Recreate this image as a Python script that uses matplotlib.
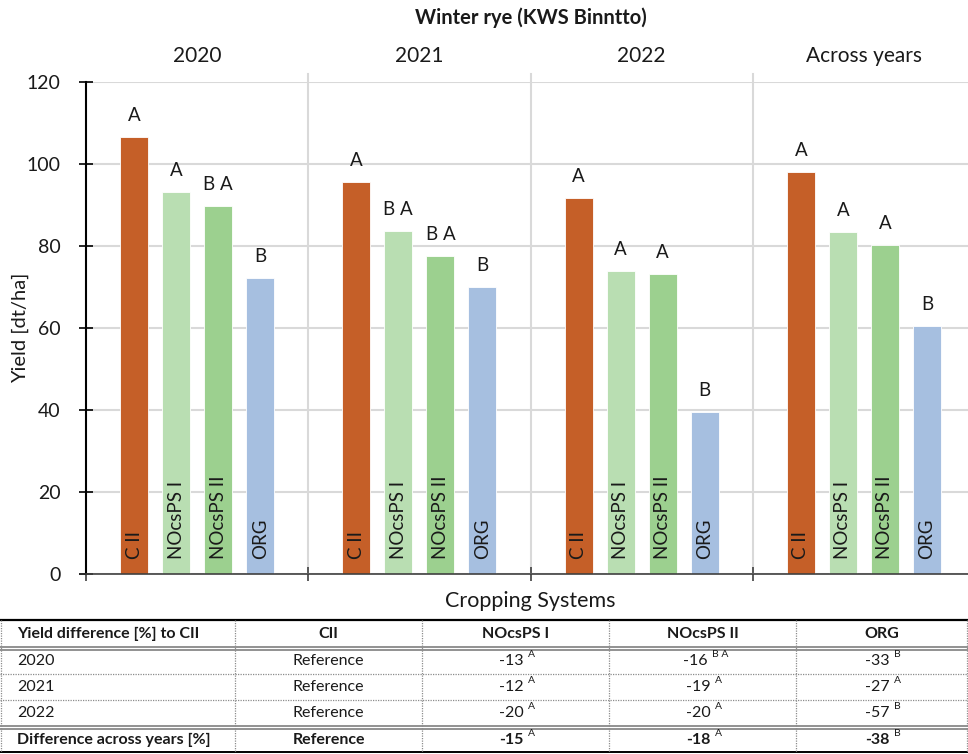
import matplotlib
matplotlib.use("Agg")
import matplotlib.pyplot as plt
import numpy as np

plt.rcParams["font.family"] = ["Lato", "DejaVu Sans"]

# ---- data -------------------------------------------------------------
groups = ["2020", "2021", "2022", "Across years"]
systems = ["C II", "NOcsPS I", "NOcsPS II", "ORG"]

yield_cii = [106.6, 95.5, 91.7, 98.1]
yield_nocsps1 = [93.0, 83.7, 73.9, 83.4]
yield_nocsps2 = [89.7, 77.6, 73.1, 80.1]
yield_org = [72.2, 70.0, 39.4, 60.5]

letters_cii = ["A", "A", "A", "A"]
letters_nocsps1 = ["A", "B A", "A", "A"]
letters_nocsps2 = ["B A", "B A", "A", "A"]
letters_org = ["B", "B", "B", "B"]

colors = ["#C55F28", "#B9DEB2", "#9CD08F", "#A6BFE0"]

table_header = ["Yield difference [%] to CII", "CII", "NOcsPS I", "NOcsPS II", "ORG"]
table_rows = ["2020", "2021", "2022", "Difference across years [%]"]
diff_nocsps1 = ["-13", "-12", "-20", "-15"]
diff_nocsps2 = ["-16", "-19", "-20", "-18"]
diff_org = ["-33", "-27", "-57", "-38"]
sig_nocsps1 = ["A", "A", "A", "A"]
sig_nocsps2 = ["B A", "A", "A", "A"]
sig_org = ["B", "A", "B", "B"]

# ---- figure -------------------------------------------------------------
W, H = 968, 754
fig = plt.figure(figsize=(W / 100, H / 100), dpi=100)

def fx(px):
    return px / W

def fy(py):
    return 1 - py / H

ax_left, ax_right, ax_top, ax_bot = 86, 975, 81.7, 574
ax = fig.add_axes([fx(ax_left), fy(ax_bot), fx(ax_right - ax_left), (ax_bot - ax_top) / H])

series = [yield_cii, yield_nocsps1, yield_nocsps2, yield_org]
letters = [letters_cii, letters_nocsps1, letters_nocsps2, letters_org]
x = np.arange(len(groups))
step = 0.189
width = 0.126
offsets = (np.arange(len(systems)) - 1.5) * step

ax.set_xlim(-0.5, len(groups) - 0.5)
ax.set_ylim(0, 120)
ax.set_yticks(np.arange(0, 121, 20))
ax.yaxis.grid(True, color="#D9D9D9", linewidth=1.5)
ax.set_axisbelow(True)

for k in range(len(groups) - 1):
    ax.plot([k + 0.5, k + 0.5], [0, 121.8], color="#D9D9D9", linewidth=1.5,
            clip_on=False, zorder=0.5)

for s, (vals, lets, col, name) in enumerate(zip(series, letters, colors, systems)):
    xs = x + offsets[s]
    ax.bar(xs, vals, width=width, color=col, edgecolor="white", linewidth=0.6, zorder=2)
    for xi, v, lt in zip(xs, vals, lets):
        ax.annotate(lt, xy=(xi, v), xytext=(0, 11.5), textcoords="offset points",
                    ha="center", va="baseline", fontsize=13.5, color="#1a1a1a")
        ax.annotate(name, xy=(xi, 0), xytext=(0, 10.5), textcoords="offset points",
                    ha="center", va="bottom", rotation=90, fontsize=13.5, color="#1a1a1a",
                    zorder=3)

ax.set_xticks(np.arange(-0.5, len(groups), 1.0))
ax.set_xticklabels([])
ax.tick_params(axis="x", direction="inout", length=10, width=1.2, color="#404040")
ax.tick_params(axis="y", direction="inout", length=9.5, width=1.2, color="black",
               labelsize=14, pad=13.5, labelcolor="#1a1a1a")
for side in ["top", "right"]:
    ax.spines[side].set_visible(False)
ax.spines["left"].set_color("black")
ax.spines["left"].set_linewidth(1.5)
ax.spines["bottom"].set_color("#404040")
ax.spines["bottom"].set_linewidth(1.2)

ax.set_ylabel("Yield [dt/ha]", fontsize=14.5, color="#1a1a1a")
ax.yaxis.set_label_coords(-0.064, 0.5)

for xi, g in zip(x, groups):
    ax.text(xi, 1.0 + 26 / (ax_bot - ax_top), g, transform=ax.get_xaxis_transform(),
            ha="center", va="center", fontsize=15, color="#1a1a1a")

ax.set_xlabel("Cropping Systems", fontsize=15.5, color="#1a1a1a", labelpad=4)

fig.text(fx((ax_left + ax_right) / 2), fy(18), "Winter rye (KWS Binntto)", ha="center",
         va="center", fontsize=14.5, fontweight="bold", color="#1a1a1a")

# ---- table -------------------------------------------------------------
tab = fig.add_axes([0, 0, 1, 1])
tab.set_xlim(0, W)
tab.set_ylim(H, 0)
tab.axis("off")

col_edges = [1, 235, 422, 609, 796, 967]
row_top = 620

tab.plot([0, W], [row_top, row_top], color="black", lw=1.6)
tab.plot([0, W], [752, 752], color="black", lw=1.4)
for yy in (648, 727):
    tab.plot([0, W], [yy - 1.5, yy - 1.5], color="#7F7F7F", lw=1.2)
    tab.plot([0, W], [yy + 1.5, yy + 1.5], color="#7F7F7F", lw=1.2)
for yy in (674, 700):
    tab.plot([0, W], [yy, yy], color="#8C8C8C", lw=0.9, ls=(0, (1, 1)))
for xx in col_edges:
    tab.plot([xx, xx], [row_top, 752], color="#8C8C8C", lw=0.9, ls=(0, (1, 1)))

centers = [(a + b) / 2 for a, b in zip(col_edges[:-1], col_edges[1:])]
header_y = 634
tab.text(17, header_y, table_header[0], ha="left", va="center", fontsize=11.5,
         fontweight="bold", color="#1a1a1a")
for c, h in zip(centers[1:], table_header[1:]):
    tab.text(c, header_y, h, ha="center", va="center", fontsize=11.5, fontweight="bold",
             color="#1a1a1a")

row_y = [661, 687, 713, 740]
diffs = [diff_nocsps1, diff_nocsps2, diff_org]
sigs = [sig_nocsps1, sig_nocsps2, sig_org]
for r, (label, yy) in enumerate(zip(table_rows, row_y)):
    bold = r == len(table_rows) - 1
    fw = "bold" if bold else "normal"
    tab.text(17, yy, label, ha="left", va="center", fontsize=11.5, fontweight=fw,
             color="#1a1a1a")
    tab.text(centers[1], yy, "Reference", ha="center", va="center", fontsize=11.5,
             fontweight=fw, color="#1a1a1a")
    for c, dcol, scol in zip(centers[2:], diffs, sigs):
        sup = scol[r]
        shift = 4 if len(sup) == 1 else 7
        t = tab.text(c - shift, yy, dcol[r], ha="center", va="center", fontsize=11.5,
                     fontweight=fw, color="#1a1a1a")
        tab.annotate(sup, xy=(1, 0.62), xycoords=t, xytext=(3, 0),
                     textcoords="offset points", ha="left", va="bottom", fontsize=7.5,
                     color="#1a1a1a")

fig.savefig("out.png", dpi=100)
